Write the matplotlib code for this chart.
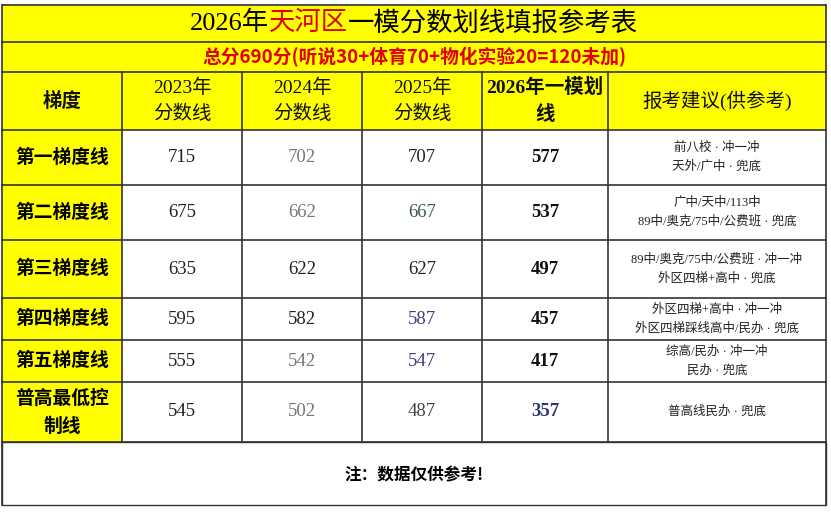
import matplotlib
matplotlib.use("Agg")
import matplotlib.pyplot as plt
from matplotlib.patches import Rectangle

plt.rcParams['font.family'] = ['Liberation Serif', 'Noto Sans CJK SC', 'DejaVu Sans']

title_a = "2026年"
title_b = "天河区"
title_c = "一模分数划线填报参考表"
subtitle = "总分690分(听说30+体育70+物化实验20=120未加)"
headers = ["梯度", "2023年\n分数线", "2024年\n分数线", "2025年\n分数线", "2026年一模划\n线", "报考建议(供参考)"]
levels = ["第一梯度线", "第二梯度线", "第三梯度线", "第四梯度线", "第五梯度线", "普高最低控\n制线"]
y2023 = [715, 675, 635, 595, 555, 545]
y2024 = [702, 662, 622, 582, 542, 502]
y2025 = [707, 667, 627, 587, 547, 487]
y2026 = [577, 537, 497, 457, 417, 357]
advice = ["前八校 · 冲一冲\n天外/广中 · 兜底",
          "广中/天中/113中\n89中/奥克/75中/公费班 · 兜底",
          "89中/奥克/75中/公费班 · 冲一冲\n外区四梯+高中 · 兜底",
          "外区四梯+高中 · 冲一冲\n外区四梯踩线高中/民办 · 兜底",
          "综高/民办 · 冲一冲\n民办 · 兜底",
          "普高线民办 · 兜底"]
footer = "注：数据仅供参考!"

c2024 = ["#777777", "#777777", "#222222", "#222222", "#777777", "#777777"]
c2025 = ["#222222", "#3a5a4a", "#222222", "#404080", "#404080", "#444444"]
c2026 = ["#111111"] * 5 + ["#2a3a70"]

W, H = 831, 512
fig = plt.figure(figsize=(W / 100, H / 100), dpi=100)
ax = fig.add_axes([0, 0, 1, 1])
ax.set_xlim(0, W)
ax.set_ylim(H, 0)
ax.axis('off')

xs = [2, 122, 242, 362, 482, 608, 826]
rows = [130, 185, 240, 298, 340, 382, 442]
YEL = "#ffff00"
L = "#333333"

ax.add_patch(Rectangle((2, 5), 824, 125, fc=YEL, ec='none'))
ax.add_patch(Rectangle((2, 130), 120, 312, fc=YEL, ec='none'))
ax.add_patch(Rectangle((2, 442), 824, 63, fc='white', ec=L, lw=1))

for y in [5, 42, 72, 130] + rows[1:]:
    ax.plot([2, 826], [y, y], color=L, lw=1.2)
for x in [2, 826]:
    ax.plot([x, x], [5, 505], color=L, lw=1.2)
for x in xs[1:-1]:
    ax.plot([x, x], [72, 442], color=L, lw=1.2)

# title with red middle part
fig.canvas.draw()
r = fig.canvas.get_renderer()
tmp = ax.text(414, 23, title_a + title_b + title_c, ha='center', va='center', fontsize=19, color='none')
x0 = tmp.get_window_extent(r).x0
tmp.remove()
for s, c in [(title_a, 'black'), (title_b, '#e00000'), (title_c, 'black')]:
    xd = ax.transData.inverted().transform((x0, 0))[0]
    t = ax.text(xd, 23, s, ha='left', va='center', fontsize=19, color=c)
    x0 = t.get_window_extent(r).x1

ax.text(414, 57, subtitle, ha='center', va='center', fontsize=13.5, color='#e00000',
        fontweight='bold', family=['Noto Sans CJK SC'])

for i, h in enumerate(headers):
    cx = (xs[i] + xs[i + 1]) / 2
    bold = i in (0, 4)
    ax.text(cx, 101, h, ha='center', va='center', fontsize=14, linespacing=1.55,
            fontweight='bold' if bold else 'normal', color='#111111')

for j in range(6):
    cy = (rows[j] + rows[j + 1]) / 2
    ax.text(62, cy, levels[j], ha='center', va='center', fontsize=13.5, fontweight='bold',
            linespacing=1.6, family=['Noto Sans CJK SC'])
    vals = [(y2023[j], '#222222', 'normal'), (y2024[j], c2024[j], 'normal'),
            (y2025[j], c2025[j], 'normal'), (y2026[j], c2026[j], 'bold')]
    for k, (v, c, w) in enumerate(vals):
        cx = (xs[k + 1] + xs[k + 2]) / 2
        ax.text(cx, cy, str(v), ha='center', va='center', fontsize=13.5, color=c, fontweight=w)
    ax.text(717, cy, advice[j], ha='center', va='center', fontsize=9, linespacing=1.7,
            color='#222222')

ax.text(414, 475, footer, ha='center', va='center', fontsize=12, fontweight='bold',
        family=['Noto Sans CJK SC'])

fig.savefig("out.png", dpi=100, facecolor='white')
